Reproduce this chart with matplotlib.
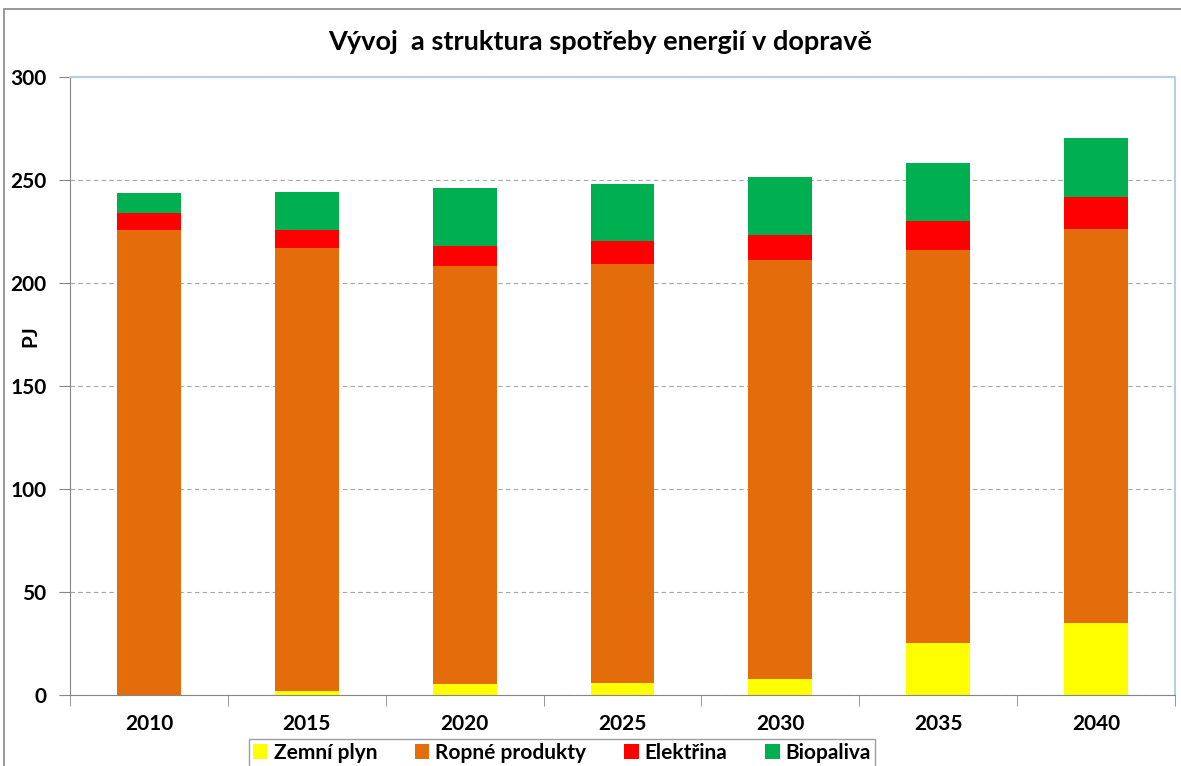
import matplotlib

matplotlib.use("Agg")
import matplotlib.pyplot as plt
from matplotlib.patches import Rectangle
import numpy as np

years = ["2010", "2015", "2020", "2025", "2030", "2035", "2040"]
zemni_plyn = [0.0, 2.0, 5.3, 5.8, 7.8, 25.2, 35.0]
ropne_produkty = [225.7, 215.0, 203.0, 203.4, 203.4, 190.8, 191.2]
elektrina = [8.3, 8.7, 9.7, 11.2, 12.1, 14.1, 15.5]
biopaliva = [9.7, 18.5, 28.0, 27.6, 28.2, 28.2, 28.7]

series = [
    ("Zemní plyn", zemni_plyn, "#FFFF00"),
    ("Ropné produkty", ropne_produkty, "#E46C0A"),
    ("Elektřina", elektrina, "#FF0000"),
    ("Biopaliva", biopaliva, "#00B050"),
]

plt.rcParams["font.family"] = ["Lato", "DejaVu Sans"]

fig = plt.figure(figsize=(11.81, 7.66), dpi=100)
fig.patches.append(Rectangle((4 / 1181, -0.1), 1.2, 1 - 9 / 766 + 0.1,
                             transform=fig.transFigure, fill=False,
                             edgecolor="#868686", linewidth=1.2))
ax = fig.add_axes([70 / 1181, 1 - 695 / 766, 1105 / 1181, 618 / 766])

x = np.arange(len(years))
bottom = np.zeros(len(years))
for name, vals, color in series:
    ax.bar(x, vals, width=0.405, bottom=bottom, color=color, label=name,
           edgecolor="none")
    bottom += np.array(vals)

ax.set_xlim(-0.5, len(years) - 0.5)
ax.set_ylim(0, 300)
ax.set_yticks(range(0, 301, 50))
ax.set_xticks(x)
ax.set_xticklabels(years)
ax.set_xticks(np.arange(-0.5, len(years)), minor=True)
ax.tick_params(axis="x", which="major", length=0, pad=14)
ax.tick_params(axis="x", which="minor", length=8, color="#868686")
ax.tick_params(axis="y", length=8, color="#868686", pad=9)
for lab in ax.get_xticklabels() + ax.get_yticklabels():
    lab.set_fontsize(15)
    lab.set_fontweight("bold")

ax.yaxis.grid(True, linestyle=(0, (4, 3)), color="#A6A6A6", linewidth=0.8)
ax.set_axisbelow(True)
for s in ("top", "right"):
    ax.spines[s].set_color("#B9CDE5")
    ax.spines[s].set_linewidth(1.5)
ax.spines["left"].set_color("#868686")
ax.spines["bottom"].set_color("#868686")

fig.text(30 / 1181, 1 - 336 / 766, "PJ", rotation=90, ha="center",
         va="center", fontsize=15, fontweight="bold")
fig.text(0.508, 0.945, "Vývoj  a struktura spotřeby energií v dopravě",
         ha="center", va="center", fontsize=19.5, fontweight="bold")

fig.legend(loc="center", bbox_to_anchor=(562 / 1181, 1 - 753 / 766), ncol=4,
           prop={"weight": "bold", "size": 15},
           handlelength=0.7, handleheight=0.7, handletextpad=0.3,
           columnspacing=1.8, frameon=True, fancybox=False,
           edgecolor="#868686", borderpad=0.2)

fig.savefig("out.png", dpi=100)
